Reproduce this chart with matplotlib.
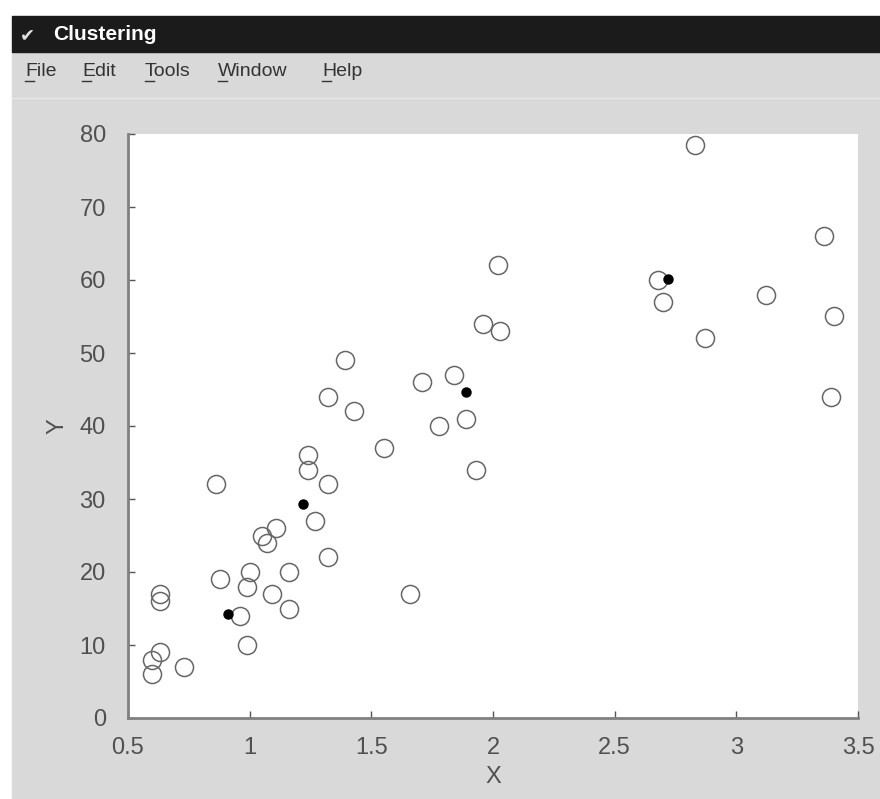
import matplotlib.pyplot as plt
from matplotlib.lines import Line2D
from matplotlib.patches import Rectangle

# data points (open circles)
x_pts = [2.83, 3.36, 2.02, 2.68, 2.70, 3.12, 3.40, 1.96, 2.03, 2.87,
         1.39, 1.84, 1.71, 1.32, 3.39, 1.43, 1.89, 1.78, 1.55, 1.24,
         1.24, 1.93, 0.86, 1.32, 1.27, 1.11, 1.05, 1.07, 1.32, 1.00,
         1.16, 0.88, 0.99, 1.09, 1.66, 0.63, 0.63, 1.16, 0.96, 0.99,
         0.63, 0.60, 0.73, 0.60]
y_pts = [78.5, 66, 62, 60, 57, 58, 55, 54, 53, 52,
         49, 47, 46, 44, 44, 42, 41, 40, 37, 36,
         34, 34, 32, 32, 27, 26, 25, 24, 22, 20,
         20, 19, 18, 17, 17, 17, 16, 15, 14, 10,
         9, 8, 7, 6]

# cluster centres (filled dots)
x_centres = [0.91, 1.22, 1.89, 2.72]
y_centres = [14.3, 29.3, 44.7, 60.2]

x_ticks = [0.5, 1, 1.5, 2, 2.5, 3, 3.5]
x_ticklabels = ['0.5', '1', '1.5', '2', '2.5', '3', '3.5']
y_ticks = [0, 10, 20, 30, 40, 50, 60, 70, 80]

window_title = 'Clustering'
menu_items = ['File', 'Edit', 'Tools', 'Window', 'Help']
menu_x = [25, 82, 145, 218, 322]

W, H = 880, 799
bg = '#d9d9d9'
fig = plt.figure(figsize=(W / 100, H / 100), dpi=100, facecolor='white')

# window frame: gray client area, black title bar
fig.patches.append(Rectangle((12 / W, 0), 1 - 12 / W, 1 - 52 / H,
                             transform=fig.transFigure, color=bg, zorder=-5))
fig.patches.append(Rectangle((12 / W, 1 - 52 / H), 1 - 12 / W, 36 / H,
                             transform=fig.transFigure, color='#1b1b1b', zorder=-5))
fig.add_artist(Line2D([12 / W, 1], [1 - 98 / H, 1 - 98 / H], color='#e8e8e8', lw=1))

fig.text(20 / W, 1 - 35 / H, '\u2714', color='#e0e0e0', fontsize=13,
         family='DejaVu Sans', va='center', ha='left')
fig.text(53 / W, 1 - 35 / H, window_title, color='white', fontsize=15,
         fontweight='bold', family='Liberation Sans', va='center', ha='left')

for label, mx in zip(menu_items, menu_x):
    fig.text(mx / W, 1 - 72 / H, label, color='#333333', fontsize=14,
             family='Liberation Sans', va='center', ha='left')
    # underline of the first letter (mnemonic)
    fig.add_artist(Line2D([mx / W, (mx + 9) / W], [1 - 81 / H, 1 - 81 / H],
                          color='#333333', lw=1))

ax = fig.add_axes([128 / W, 1 - 718 / H, 730 / W, 584 / H])
ax.set_zorder(5)
ax.set_facecolor('white')

ax.plot(x_pts, y_pts, linestyle='none', marker='o', markersize=13,
        markerfacecolor='none', markeredgecolor='#666666', markeredgewidth=1.1)
ax.plot(x_centres, y_centres, linestyle='none', marker='o', markersize=6.5,
        color='black')

ax.set_xlim(0.5, 3.5)
ax.set_ylim(0, 80)
ax.set_xticks(x_ticks)
ax.set_xticklabels(x_ticklabels)
ax.set_yticks(y_ticks)

for side in ['top', 'right']:
    ax.spines[side].set_visible(False)
for side in ['left', 'bottom']:
    ax.spines[side].set_color('#808080')
    ax.spines[side].set_linewidth(2)

ax.tick_params(direction='in', length=5, width=1, color='#555555',
               labelsize=17, labelcolor='#505050')
ax.tick_params(axis='x', pad=14)
ax.tick_params(axis='y', pad=16)
for lbl in ax.get_xticklabels() + ax.get_yticklabels():
    lbl.set_family('Liberation Sans')

ax.set_xlabel('X', fontsize=17, color='#505050', family='Liberation Sans', labelpad=5)
ax.set_ylabel('Y', fontsize=17, color='#505050', family='Liberation Sans', labelpad=8)

fig.savefig('out.png', dpi=100, facecolor=fig.get_facecolor())
